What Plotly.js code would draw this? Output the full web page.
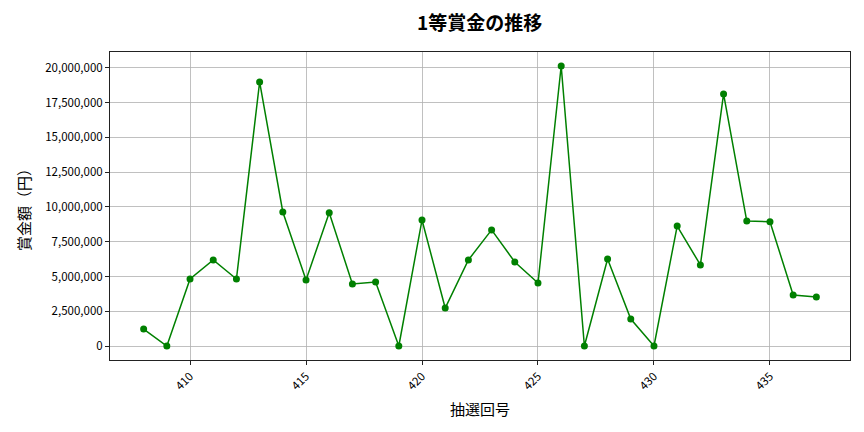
<!DOCTYPE html>
<html>
<head>
<meta charset="utf-8">
<script src="https://cdn.plot.ly/plotly-3.0.1.min.js"></script>
<style>
  body { margin: 0; background: #fff; }
  #chart { width: 864px; height: 432px; }
</style>
</head>
<body>
<div id="chart"></div>
<script>
// Draw numbers (回号) and 1st prize amounts (円)
const drawNumbers = [408, 409, 410, 411, 412, 413, 414, 415, 416, 417,
                     418, 419, 420, 421, 422, 423, 424, 425, 426, 427,
                     428, 429, 430, 431, 432, 433, 434, 435, 436, 437];
const prizes = [1220000, 0, 4820000, 6190000, 4820000, 18990000, 9640000, 4750000, 9590000, 4460000,
                4600000, 0, 9060000, 2730000, 6190000, 8350000, 6040000, 4530000, 20140000, 0,
                6260000, 1940000, 0, 8630000, 5830000, 18130000, 8990000, 8940000, 3670000, 3530000];
const xTicks = [410, 415, 420, 425, 430, 435];
const yTicks = [0, 2500000, 5000000, 7500000, 10000000, 12500000, 15000000, 17500000, 20000000];

const font = 'Noto Sans CJK JP, Noto Sans, sans-serif';

// matplotlib-like 5% padding on both axes
const xMin = Math.min(...drawNumbers), xMax = Math.max(...drawNumbers);
const yMin = Math.min(...prizes), yMax = Math.max(...prizes);
const xPad = (xMax - xMin) * 0.05;
const yPad = (yMax - yMin) * 0.05;

const trace = {
    x: drawNumbers,
    y: prizes,
    type: 'scatter',
    mode: 'lines+markers',
    line: { color: 'green', width: 1.5 },
    marker: { color: 'green', size: 7 },
    showlegend: false,
    hoverinfo: 'skip'
};

const layout = {
    width: 864,
    height: 432,
    paper_bgcolor: '#fff',
    plot_bgcolor: '#fff',
    margin: { l: 110, r: 14, t: 52, b: 72 },
    font: { family: font, color: '#000', size: 12 },
    title: {
        text: '<b>1等賞金の推移</b>',
        font: { family: font, size: 19, color: '#000' },
        x: 0.5551, xanchor: 'center',
        y: 0.945, yanchor: 'middle'
    },
    xaxis: {
        range: [xMin - xPad, xMax + xPad],
        tickvals: xTicks,
        ticktext: xTicks.map(String),
        tickangle: -45,
        ticks: 'outside', ticklen: 4, tickcolor: '#222',
        showgrid: true, gridcolor: '#b0b0b0', gridwidth: 0.8,
        zeroline: false,
        showline: true, linecolor: '#222', linewidth: 1, mirror: true,
        tickfont: { family: font, size: 11.5, color: '#000' },
        title: { text: '抽選回号', font: { family: font, size: 15, color: '#000' }, standoff: 12 }
    },
    yaxis: {
        range: [yMin - yPad, yMax + yPad],
        tickvals: yTicks,
        ticktext: yTicks.map(v => v.toLocaleString('en-US')),
        ticks: 'outside', ticklen: 4, tickcolor: '#222',
        showgrid: true, gridcolor: '#b0b0b0', gridwidth: 0.8,
        zeroline: false,
        showline: true, linecolor: '#222', linewidth: 1, mirror: true,
        tickfont: { family: font, size: 11.5, color: '#000' },
        title: { text: '賞金額（円）', font: { family: font, size: 15, color: '#000' }, standoff: 10 }
    }
};

Plotly.newPlot('chart', [trace], layout, { staticPlot: true, displayModeBar: false });
</script>
</body>
</html>
